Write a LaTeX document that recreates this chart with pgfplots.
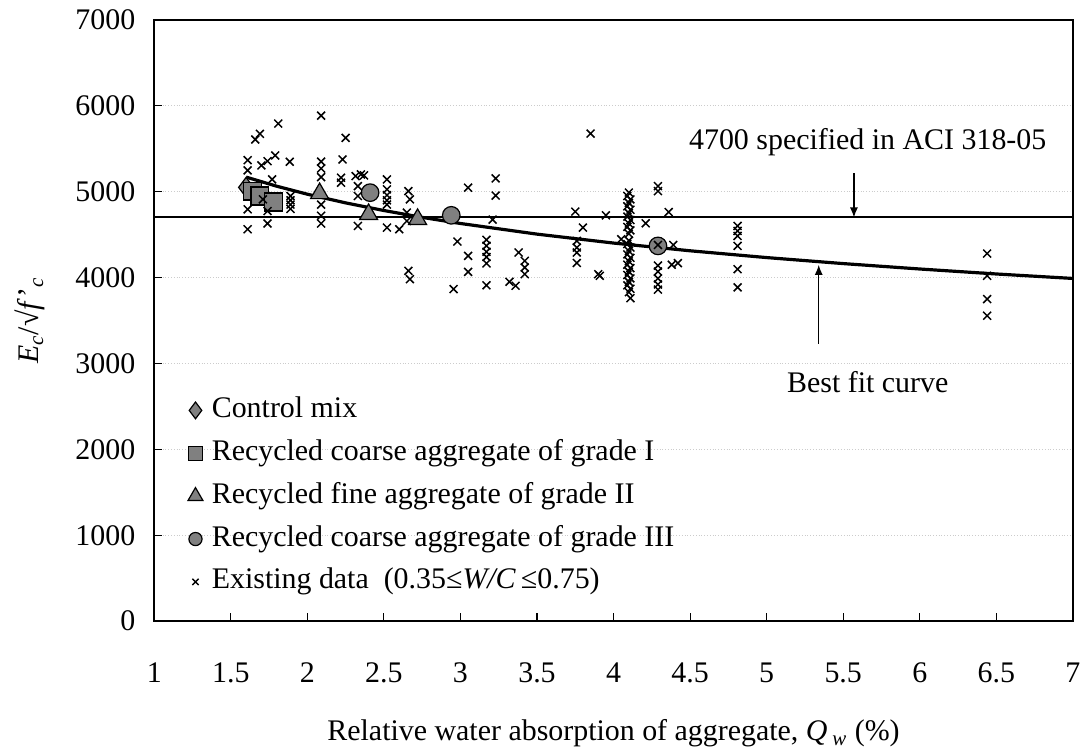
\documentclass[border=0pt]{standalone}
\usepackage{pgfplots}
\pgfplotsset{compat=1.18}
\usepackage{fontspec}
\setmainfont{Liberation Serif}
\usetikzlibrary{arrows.meta}
\definecolor{mk}{RGB}{128,128,128}
\begin{document}
\begin{tikzpicture}[font=\fontsize{15}{18}\selectfont]
\begin{axis}[
  scale only axis, width=460.7pt, height=301.5pt,
  xmin=1, xmax=7, ymin=0, ymax=7000,
  xtick={1,1.5,2,2.5,3,3.5,4,4.5,5,5.5,6,6.5,7},
  ytick={0,1000,2000,3000,4000,5000,6000,7000},
  tick align=inside, major tick length=4pt,
  xtick pos=bottom, ytick pos=left,
  axis line style={line width=0.9pt},
  every tick/.style={black, line width=0.6pt},
  ymajorgrids, grid style={gray!40, line width=0.4pt, densely dotted},
  /pgf/number format/assume math mode=true,
  /pgf/number format/1000 sep={},
  xticklabel style={font=\fontsize{15}{18}\selectfont, anchor=center, yshift=-26pt},
  yticklabel style={font=\fontsize{15}{18}\selectfont, xshift=-6pt},
  xlabel={Relative water absorption of aggregate, \textit{Q}\,\textsubscript{\textit{w}} (\%)},
  xlabel style={at={(axis description cs:0.5,-0.199)}, anchor=base},
  ylabel={\textit{E}\textsubscript{\textit{c}}/√\textit{f}\kern0.5pt'\textsubscript{\textit{c}}},
  ylabel style={at={(axis description cs:-0.135,0.5)}, anchor=center, rotate=0},
  legend cell align=left,
  legend image code/.code={\path (-6pt,0pt) (6pt,0pt); \draw[#1] plot coordinates {(0pt,0pt)};},
  legend style={draw=none, fill=none, inner sep=0pt, at={(axis description cs:0.031,0.381)}, anchor=north west,
    row sep=3.5pt, nodes={inner sep=2pt, text height=10.5pt, text depth=3.5pt},
    font=\fontsize{15}{18}\selectfont},
  clip=false,
]
% ACI 318-05 line
\addplot[forget plot, black, line width=1pt] coordinates {(1,4700) (7,4700)};
% Control mix
\addplot[only marks, mark=diamond*, mark size=5pt, mark options={fill=mk, draw=black, line width=0.6pt},
  legend image post style={mark size=4.2pt}] coordinates {(1.6,5050)};
\addlegendentry{Control mix}
% grade I
\addplot[only marks, mark=square*, mark size=4.5pt, mark options={fill=mk, draw=black, line width=0.6pt},
  legend image post style={mark size=3.6pt}] coordinates {(1.64,5007) (1.69,4950) (1.78,4880)};
\addlegendentry{Recycled coarse aggregate of grade I}
% grade II
\addplot[only marks, mark=triangle*, mark size=5.2pt, mark options={fill=mk, draw=black, line width=0.6pt},
  legend image post style={mark size=4.3pt}] coordinates {(2.08,4980) (2.40,4737) (2.72,4679)};
\addlegendentry{Recycled fine aggregate of grade II}
% grade III
\addplot[only marks, mark=*, mark size=4.4pt, mark options={fill=mk, draw=black, line width=0.6pt},
  legend image post style={mark size=3.3pt}] coordinates {(2.41,4989) (2.94,4725) (4.29,4369)};
\addlegendentry{Recycled coarse aggregate of grade III}
% existing data
\addplot[only marks, mark=x, mark size=2.8pt, mark options={black, line width=0.75pt},
  legend image post style={mark size=2.2pt}] coordinates {
 (1.61,5367) (1.61,5248) (1.61,4795) (1.61,4563)
 (1.66,5608) (1.69,5674) (1.81,5793) (1.79,5422) (1.74,5356) (1.70,5306) (1.885,5349) (1.77,5143)
 (1.74,4775) (1.74,4630) (1.71,4911)
 (1.89,4950) (1.89,4900) (1.89,4850) (1.89,4800)
 (2.09,5886) (2.09,5350) (2.09,5270) (2.09,5170) (2.09,4850) (2.09,4720) (2.09,4630)
 (2.25,5627) (2.23,5375) (2.22,5163) (2.22,5105) (2.315,5182) (2.35,5201) (2.37,5190) (2.33,5065) (2.33,4950) (2.33,4601)
 (2.52,5143) (2.52,5027) (2.52,4960) (2.52,4900) (2.52,4850) (2.52,4582)
 (2.60,4563) (2.66,5007) (2.67,4911) (2.65,4757) (2.65,4659) (2.66,4079) (2.67,3982)
 (3.05,5047) (2.98,4420) (3.05,4253) (3.05,4067) (2.955,3866)
 (3.23,5155) (3.23,4955) (3.21,4675)
 (3.17,4440) (3.17,4370) (3.17,4300) (3.17,4240) (3.17,4165) (3.17,3910)
 (3.38,4292) (3.42,4195) (3.42,4118) (3.42,4040) (3.32,3951) (3.36,3905)
 (3.85,5677) (3.75,4768) (3.80,4582) (3.76,4427) (3.76,4350) (3.76,4292) (3.76,4170) (3.90,4040) (3.91,4021) (3.95,4725)
 (4.10,4990) (4.09,4950) (4.11,4910) (4.10,4870) (4.09,4830) (4.11,4790) (4.10,4750) (4.09,4710) (4.11,4670)
 (4.10,4630) (4.09,4590) (4.11,4550) (4.10,4510)
 (4.10,4430) (4.09,4390) (4.11,4350) (4.10,4310) (4.09,4270) (4.11,4230) (4.10,4190) (4.09,4150) (4.11,4110)
 (4.10,4070) (4.09,4030) (4.11,3990) (4.10,3950) (4.09,3910) (4.11,3870) (4.10,3830) (4.11,3760)
 (4.05,4447) (4.21,4632)
 (4.29,5065) (4.29,5007) (4.36,4763) (4.39,4380) (4.38,4150) (4.42,4168)
 (4.29,4380) (4.29,4140) (4.29,4070) (4.29,3990) (4.29,3920) (4.29,3860)
 (4.81,4601) (4.81,4543) (4.81,4485) (4.81,4369) (4.81,4098) (4.81,3886)
 (6.44,4280) (6.44,4021) (6.44,3750) (6.44,3556)
};
\addlegendentry{Existing data\ \ (0.35≤\textit{W/C}\,≤0.75)}
% best fit curve
\addplot[forget plot, black, line width=1.6pt] coordinates {
 (1.6,5170) (1.8,5064) (2.0,4971) (2.25,4870) (2.5,4781) (2.75,4701) (3.0,4630) (3.5,4506)
 (4.0,4402) (4.5,4312) (5.0,4233) (5.5,4163) (6.0,4100) (6.5,4042) (7.0,3990)};
% annotations
\draw[line width=0.6pt, -{Latex[length=5pt,width=4pt]}] (axis cs:5.57,5213) -- (axis cs:5.57,4700);
\node at (axis cs:5.66,5573) {4700 specified in ACI 318-05};
\draw[line width=0.6pt, -{Latex[length=5pt,width=4pt]}] (axis cs:5.34,3228) -- (axis cs:5.34,4148);
\node at (axis cs:5.66,2786) {Best fit curve};
\end{axis}
\path ([xshift=-77.35pt,yshift=-67.5pt]current axis.south west) rectangle ++(543.5pt,379pt);
\end{tikzpicture}
\end{document}
